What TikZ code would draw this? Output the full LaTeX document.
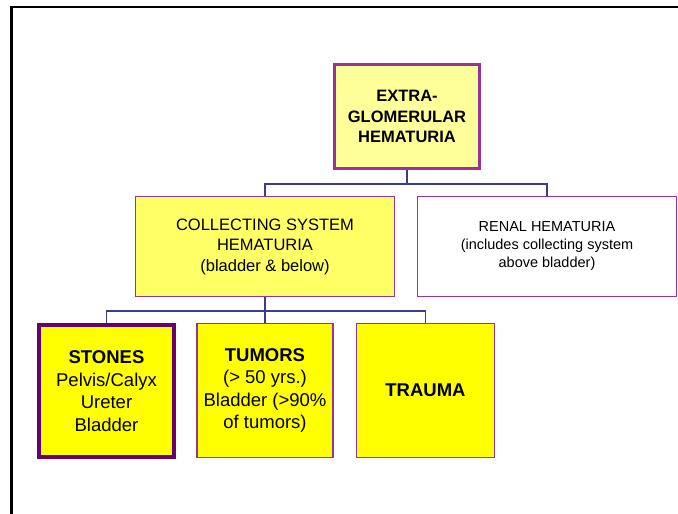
\documentclass[tikz,border=0pt]{standalone}
\usepackage{fontspec}
\setmainfont{Liberation Sans}
\definecolor{palefill}{HTML}{FFFF99}
\definecolor{midfill}{HTML}{FFFF66}
\definecolor{brightfill}{HTML}{FFFF00}
\definecolor{boxline}{HTML}{993399}
\definecolor{darkline}{HTML}{6A006A}
\definecolor{linkline}{HTML}{3B3B93}
\begin{document}
\begin{tikzpicture}[x=1pt,y=-1pt,
  box/.style={draw=boxline, line width=1.2pt, inner sep=0pt, align=center, anchor=center},
  topbox/.style={box, fill=palefill, line width=3.2pt, minimum width=145pt, minimum height=104pt,
                 font=\fontsize{16.5}{20.5}\selectfont\bfseries},
  midbox/.style={box, minimum width=259pt, minimum height=100pt,
                 font=\fontsize{16.5}{20.5}\selectfont},
  sidebox/.style={box, fill=white, minimum width=259pt, minimum height=100pt,
                 font=\fontsize{14.5}{18}\selectfont},
  lowbox/.style={box, fill=brightfill, minimum width=136pt, minimum height=134pt,
                 font=\fontsize{18.5}{22.5}\selectfont},
  link/.style={draw=linkline, line width=1.1pt}
]
\useasboundingbox (0,0) rectangle (678,514);
% outer frame (runs off the right and bottom edges)
\draw[line width=2.2pt, line cap=rect] (11.5,514) -- (11.5,7) -- (678,7);

% boxes
\node[topbox] (top) at (407,116.5) {EXTRA-\\GLOMERULAR\\HEMATURIA};
\node[midbox, fill=midfill] (coll) at (265,246.5) {COLLECTING SYSTEM\\HEMATURIA\\(bladder \& below)};
\node[sidebox] (renal) at (547,246.5) {RENAL HEMATURIA\\(includes collecting system\\above bladder)};
\node[lowbox, draw=darkline, line width=3.6pt, minimum width=135pt, minimum height=132pt] (stones) at (106.5,391)
  {\textbf{STONES}\\Pelvis/Calyx\\Ureter\\Bladder};
\node[lowbox] (tumors) at (265,390.5) {\textbf{TUMORS}\\(> 50 yrs.)\\Bladder (>90\%\\of tumors)};
\node[lowbox, minimum width=138pt] (trauma) at (425.5,390.5) {\textbf{TRAUMA}};

% tree connectors
\coordinate (j1) at (407,184);
\coordinate (j2) at (265,311);
\draw[link] (top.south) -- (j1);
\draw[link] (coll.north) |- (j1) -| (renal.north);
\draw[link] (coll.south) -- (j2);
\draw[link] (stones.north) |- (j2) -| (trauma.north);
\draw[link] (j2) -- (tumors.north);
\end{tikzpicture}
\end{document}
